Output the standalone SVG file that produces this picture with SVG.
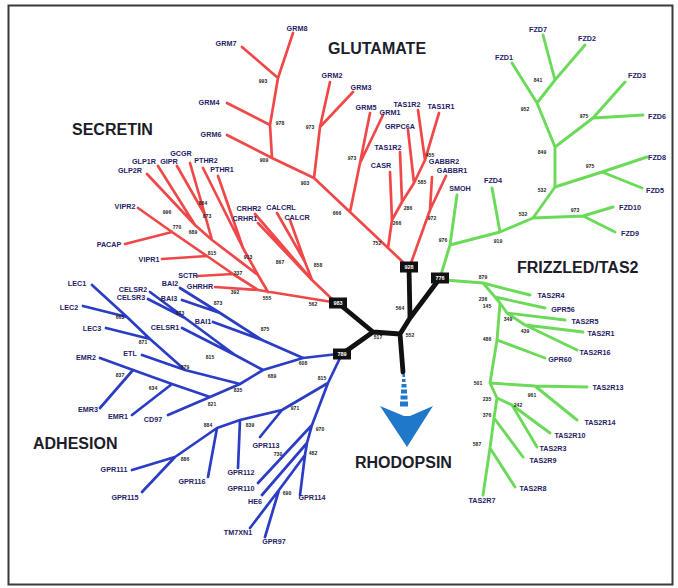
<svg xmlns="http://www.w3.org/2000/svg" width="678" height="588" viewBox="0 0 678 588">
<style>
.r{stroke:#f04848;stroke-width:2.7;fill:none;stroke-linecap:round;stroke-linejoin:round}
.g{stroke:#6ada58;stroke-width:2.9;fill:none;stroke-linecap:round;stroke-linejoin:round}
.b{stroke:#2b3dc4;stroke-width:2.7;fill:none;stroke-linecap:round;stroke-linejoin:round}
.k{stroke:#111;stroke-width:4.8;fill:none;stroke-linecap:round;stroke-linejoin:round}
text{font-family:"Liberation Sans",Arial,sans-serif;font-weight:bold}
.lf{font-size:7.2px;fill:#1f2266;text-anchor:middle}
.bs{font-size:5px;fill:#222;text-anchor:middle}
.tt{font-size:16px;fill:#1c1c2a}
.bx rect{fill:#111}
.bx text{font-size:5.5px;fill:#fff;text-anchor:middle}
</style>
<rect x="8.5" y="5.5" width="664" height="579" fill="#fff" stroke="#3a3a3a" stroke-width="2"/>

<g id="connectors">
<path class="k" d="M440,278 L410,318 L400,334 L403,372 M409,267 L410,318 M400,334 L373,332 L338,303 M373,332 L342,354"/>
<path class="r" d="M405,264 L314,178 L272,158 L270,125 L278,78 L293,33 M278,78 L242,47 M270,125 L227,103 M272,158 L227,135 M314,178 L320,127 L330,82 M320,127 L353,92 M350,212 L360,163 L370,113 M360,163 L383,115 M388,248 L392,220 L390,172 M392,220 L402,202 L400,152 M402,202 L414,183 L408,130 M414,183 L425,160 L418,110 M425,160 L439,113 M411,263 L430,210 L432,177 M430,210 L446,176"/>
<path class="r" d="M138,208 L172,232 L207,256 L233,274 L258,290 L332,302 M125,244 L172,232 M162,259 L207,256 M198,276 L233,274 M215,287 L258,290 M268,292 L258,275 L243,248 L203,168 M243,248 L218,176 M258,275 L212,240 L195,225 L158,166 M195,225 L147,174 M212,240 L205,215 L177,166 M205,215 L190,163 M255,214 L312,280 L333,300 M258,223 L312,280 M277,213 L305,262 L312,280 M290,220 L305,262"/>
<path class="g" d="M440,278 L450,245 L457,195 M450,245 L500,232 L492,188 M500,232 L533,218 L583,216 L613,207 M583,216 L615,232 M533,218 L555,187 L602,172 L647,157 M602,172 L642,188 M555,187 L555,147 L593,118 L625,82 M593,118 L643,115 M555,147 L537,103 L512,63 M537,103 L555,80 L543,35 M555,80 L585,45"/>
<path class="g" d="M445,280 L483,283 L530,295 M483,283 L495,297 L545,308 M495,297 L500,303 L507,313 L565,320 M507,313 L525,325 L583,332 M525,325 L577,350 M500,303 L497,340 L545,358 M497,340 L490,383 L535,386 L587,387 M535,386 L577,420 M490,383 L497,398 L512,405 L550,433 M512,405 L537,447 M497,398 L494,418 L523,457 M494,418 L490,448 L515,487 M490,448 L483,495"/>
<path class="b" d="M338,354 L303,358 L262,340 L220,313 L180,288 M220,313 L182,300 M262,340 L213,322 M303,358 L263,370 L235,355 L185,318 L150,292 M185,318 L148,299 M235,355 L182,328 M263,370 L240,384 L185,370 L150,339 L127,317 L92,285 M127,317 L83,306 M150,339 L106,328 M185,370 L142,355 M240,384 L210,397 L172,384 L133,370 L100,358 M133,370 L100,408 M172,384 L132,415 M210,397 L168,415"/>
<path class="b" d="M340,358 L328,383 L282,410 L240,420 L217,428 L175,457 L132,470 M175,457 L142,492 M217,428 L208,477 M240,420 L238,468 M282,410 L260,437 M328,383 L312,425 L258,483 M312,425 L307,443 L262,495 M307,443 L305,455 L300,495 M305,455 L279,490 L250,528 M279,490 L265,537"/>
</g>

<g id="rhodopsin-arrow" fill="#1f78c9">
<rect x="402.5" y="374" width="2.5" height="3"/>
<rect x="402" y="379" width="3.5" height="3"/>
<rect x="401.5" y="384" width="5" height="3.5"/>
<rect x="401" y="389.5" width="6" height="4"/>
<rect x="400.5" y="395.5" width="7" height="4"/>
<rect x="400" y="401.5" width="8" height="5"/>
<path d="M380,406 L404,416 L410,416 L433,406 L407,447 Z"/>
</g>

<g id="titles" class="tt">
<text x="328" y="54">GLUTAMATE</text>
<text x="72" y="135">SECRETIN</text>
<text x="517" y="273">FRIZZLED/TAS2</text>
<text x="33" y="449">ADHESION</text>
<text x="355" y="468">RHODOPSIN</text>
</g>

<g id="box-glutamate" class="bx"><rect x="400" y="261.5" width="18" height="11"/><text x="409" y="269">928</text></g>
<g id="box-frizzled" class="bx"><rect x="431" y="272.5" width="18" height="11"/><text x="440" y="280">776</text></g>
<g id="box-secretin" class="bx"><rect x="329" y="297.5" width="18" height="11"/><text x="338" y="305">983</text></g>
<g id="box-adhesion" class="bx"><rect x="333" y="348.5" width="18" height="11"/><text x="342" y="356">789</text></g>

<g id="core-bootstrap" class="bs"><text x="400" y="310">564</text><text x="410" y="337">552</text><text x="378" y="339">517</text></g>

<g id="glutamate-leaves" class="lf">
<text x="297" y="31">GRM8</text><text x="226" y="46">GRM7</text><text x="209" y="105">GRM4</text><text x="211" y="137">GRM6</text>
<text x="332" y="78">GRM2</text><text x="361" y="90">GRM3</text><text x="366" y="110">GRM5</text><text x="390" y="115">GRM1</text>
<text x="407" y="107">TAS1R2</text><text x="441" y="109">TAS1R1</text><text x="400" y="129">GRPC6A</text>
<text x="388" y="150">TAS1R2</text><text x="381" y="168">CASR</text><text x="444" y="164">GABBR2</text><text x="452" y="172.5">GABBR1</text>
</g>
<g id="glutamate-bootstrap" class="bs">
<text x="263" y="83">993</text><text x="280" y="125">978</text><text x="264" y="162">909</text><text x="305" y="185">903</text>
<text x="310" y="129">973</text><text x="352" y="160">973</text><text x="337" y="215">666</text><text x="377" y="245">752</text>
<text x="397" y="225">266</text><text x="408" y="210">286</text><text x="422" y="184">585</text><text x="430" y="157">455</text><text x="432" y="220">972</text>
</g>

<g id="secretin-leaves" class="lf">
<text x="144" y="164">GLP1R</text><text x="169" y="164">GIPR</text><text x="181" y="155.5">GCGR</text><text x="206" y="163">PTHR2</text>
<text x="222" y="172">PTHR1</text><text x="130" y="173">GLP2R</text><text x="125" y="209">VIPR2</text><text x="109" y="247">PACAP</text>
<text x="149" y="262">VIPR1</text><text x="188" y="278">SCTR</text><text x="200" y="289">GHRHR</text>
<text x="249" y="211">CRHR2</text><text x="281" y="210">CALCRL</text><text x="245" y="221">CRHR1</text><text x="297" y="220">CALCR</text>
</g>
<g id="secretin-bootstrap" class="bs">
<text x="167" y="214">996</text><text x="203" y="205">884</text><text x="207" y="218">873</text><text x="193" y="234">689</text>
<text x="177" y="229">770</text><text x="212" y="255">815</text><text x="248" y="259">913</text><text x="238" y="275">337</text>
<text x="235" y="294">392</text><text x="267" y="300">555</text><text x="313" y="306">562</text><text x="280" y="264">867</text><text x="318" y="267">858</text>
</g>

<g id="frizzled-leaves" class="lf">
<text x="460" y="191">SMOH</text><text x="493" y="183">FZD4</text><text x="630" y="210">FZD10</text><text x="630" y="236">FZD9</text>
<text x="657" y="160">FZD8</text><text x="655" y="193">FZD5</text><text x="637" y="78">FZD3</text><text x="657" y="119">FZD6</text>
<text x="504" y="60">FZD1</text><text x="538" y="32">FZD7</text><text x="587" y="41">FZD2</text>
</g>
<g id="frizzled-bootstrap" class="bs">
<text x="443" y="242">976</text><text x="498" y="243">919</text><text x="523" y="216">532</text><text x="575" y="212">973</text>
<text x="542" y="192">532</text><text x="590" y="168">975</text><text x="542" y="154">849</text><text x="584" y="118">975</text>
<text x="525" y="111">952</text><text x="538" y="82">841</text>
</g>

<g id="tas2-leaves" class="lf">
<text x="551" y="298">TAS2R4</text><text x="563" y="312">GPR56</text><text x="585" y="324">TAS2R5</text><text x="601" y="336">TAS2R1</text>
<text x="595" y="355">TAS2R16</text><text x="560" y="362">GPR60</text><text x="608" y="390">TAS2R13</text><text x="600" y="425">TAS2R14</text>
<text x="570" y="438">TAS2R10</text><text x="553" y="451">TAS2R3</text><text x="543" y="463">TAS2R9</text><text x="533" y="491">TAS2R8</text><text x="482" y="503">TAS2R7</text>
</g>
<g id="tas2-bootstrap" class="bs">
<text x="483" y="279">879</text><text x="483" y="301">236</text><text x="487" y="308">145</text><text x="508" y="321">349</text>
<text x="525" y="333">439</text><text x="487" y="341">486</text><text x="478" y="385">501</text><text x="532" y="397">961</text>
<text x="487" y="401">235</text><text x="518" y="407">242</text><text x="487" y="417">376</text><text x="477" y="446">587</text>
</g>

<g id="adhesion-leaves" class="lf">
<text x="77" y="286">LEC1</text><text x="69" y="310">LEC2</text><text x="92" y="331">LEC3</text><text x="133" y="292">CELSR2</text>
<text x="131" y="300">CELSR3</text><text x="170" y="286">BAI2</text><text x="169" y="301">BAI3</text><text x="203" y="324">BAI1</text>
<text x="165" y="330">CELSR1</text><text x="130" y="356">ETL</text><text x="86" y="360">EMR2</text><text x="88" y="412">EMR3</text>
<text x="118" y="419">EMR1</text><text x="153" y="422">CD97</text>
<text x="114" y="472">GPR111</text><text x="125" y="500">GPR115</text><text x="192" y="484">GPR116</text><text x="241" y="475">GPR112</text>
<text x="266" y="448">GPR113</text><text x="241" y="491">GPR110</text><text x="255" y="504">HE6</text><text x="312" y="500">GPR114</text>
<text x="238" y="535">TM7XN1</text><text x="274" y="544">GPR97</text>
</g>
<g id="adhesion-bootstrap" class="bs">
<text x="120" y="319">663</text><text x="143" y="344">871</text><text x="180" y="315">873</text><text x="218" y="305">873</text>
<text x="265" y="331">875</text><text x="210" y="359">815</text><text x="185" y="369">879</text><text x="120" y="377">837</text>
<text x="153" y="390">634</text><text x="212" y="406">821</text><text x="238" y="392">835</text><text x="272" y="378">689</text>
<text x="303" y="365">608</text><text x="322" y="380">815</text><text x="295" y="410">971</text><text x="250" y="427">839</text>
<text x="208" y="427">884</text><text x="185" y="461">886</text><text x="320" y="431">970</text><text x="278" y="456">730</text>
<text x="313" y="455">482</text><text x="287" y="495">690</text>
</g>
</svg>
